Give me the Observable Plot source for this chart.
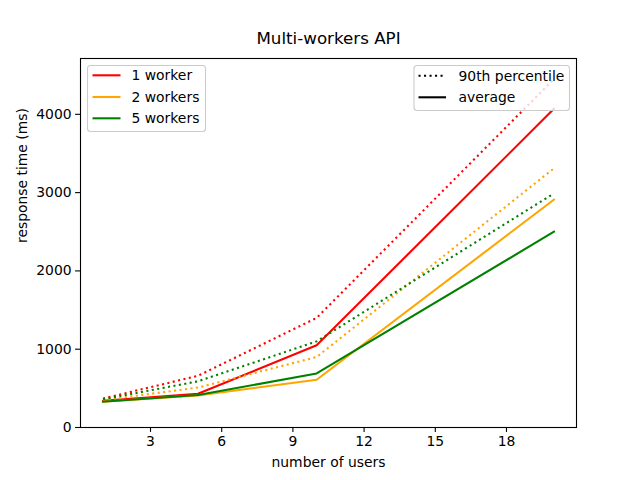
<!DOCTYPE html>
<html>
<head>
<meta charset="utf-8">
<script src="https://cdn.jsdelivr.net/npm/d3@7"></script>
<script src="https://cdn.jsdelivr.net/npm/@observablehq/plot@0.6"></script>
<style>
  html, body { margin: 0; padding: 0; background: #fff; }
  svg { font-family: "DejaVu Sans", sans-serif; }
</style>
</head>
<body>
<div id="chart"></div>
<script>
const users = [1, 5, 10, 20];
const workers = ["1 worker", "2 workers", "5 workers"];
const colors = ["red", "orange", "green"];
const avg1 = [340, 430, 1050, 4070];
const avg2 = [330, 410, 610, 2910];
const avg5 = [330, 415, 690, 2500];
const p90_1 = [370, 660, 1400, 4450];
const p90_2 = [350, 510, 900, 3310];
const p90_5 = [360, 590, 1100, 2990];
const xTicks = [3, 6, 9, 12, 15, 18];
const yTicks = [0, 1000, 2000, 3000, 4000];
const styleNames = ["90th percentile", "average"];

const avgs = [avg1, avg2, avg5];
const p90s = [p90_1, p90_2, p90_5];

const marks = [];
workers.forEach((w, i) => {
  const pd = users.map((u, j) => ({x: u, y: p90s[i][j], w}));
  const ad = users.map((u, j) => ({x: u, y: avgs[i][j], w}));
  marks.push(Plot.line(pd, {x: "x", y: "y", stroke: colors[i], strokeWidth: 2.08, strokeDasharray: "2.08,3.43", strokeLinecap: "butt"}));
  marks.push(Plot.line(ad, {x: "x", y: "y", stroke: colors[i], strokeWidth: 2.08, strokeLinecap: "square"}));
});

const chart = Plot.plot({
  width: 640,
  height: 480,
  marginLeft: 80,
  marginRight: 64,
  marginTop: 58,
  marginBottom: 53,
  style: {fontFamily: "DejaVu Sans, sans-serif", fontSize: "13.9px", color: "black", background: "white"},
  x: {domain: [0.05, 20.95]},
  y: {domain: [0, 4713]},
  marks: [
    ...marks,
    Plot.frame({stroke: "black", strokeWidth: 1.1}),
    Plot.axisX({ticks: xTicks, tickSize: 4.9, tickPadding: 4, tickFormat: d => String(d), label: null, strokeWidth: 1.1, fontSize: 13.9}),
    Plot.axisY({ticks: yTicks, tickSize: 4.9, tickPadding: 4, tickFormat: d => String(d), label: null, strokeWidth: 1.1, fontSize: 13.9}),
    Plot.text(["number of users"], {frameAnchor: "bottom", dy: 35, fontSize: 13.9, lineAnchor: "middle"}),
    Plot.text(["response time (ms)"], {frameAnchor: "left", dx: -58, rotate: -90, fontSize: 13.9}),
    Plot.text(["Multi-workers API"], {frameAnchor: "top", dy: -15, fontSize: 16.7, lineAnchor: "bottom"})
  ]
});
document.getElementById("chart").appendChild(chart);

// Legends (drawn into the same SVG)
const svg = d3.select(chart.tagName === "svg" ? chart : chart.querySelector("svg"));
function legend(x0, y0, w, h, items, lineX0, lineX1, textX) {
  const g = svg.append("g").attr("text-anchor", "start");
  g.append("rect").attr("x", x0).attr("y", y0).attr("width", w).attr("height", h)
    .attr("rx", 3).attr("fill", "white").attr("fill-opacity", 0.8)
    .attr("stroke", "#cccccc").attr("stroke-width", 1.1);
  items.forEach(it => {
    g.append("line").attr("x1", lineX0).attr("x2", lineX1).attr("y1", it.y).attr("y2", it.y)
      .attr("stroke", it.color).attr("stroke-width", 2.08)
      .attr("stroke-dasharray", it.dash || null);
    g.append("text").attr("x", textX).attr("y", it.y).attr("dy", "0.35em")
      .attr("text-anchor", "start")
      .attr("font-size", 13.9).attr("fill", "black").text(it.label);
  });
}
legend(87.5, 65.5, 118, 66, workers.map((w, i) => ({label: w, color: colors[i], y: [75.3, 97, 118.3][i]})), 92.5, 120.5, 131.5);
legend(414, 65.5, 155.5, 45, styleNames.map((s, i) => ({label: s, color: "black", dash: i === 0 ? "2.08,3.43" : null, y: [75.7, 97.3][i]})), 418.5, 446, 458.5);
</script>
</body>
</html>
